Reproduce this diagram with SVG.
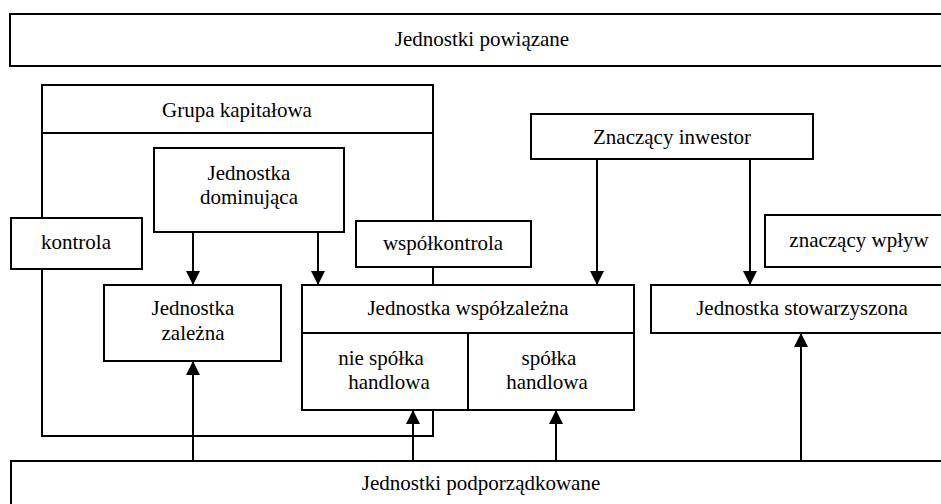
<svg xmlns="http://www.w3.org/2000/svg" width="941" height="504" viewBox="0 0 941 504">
<style>
.b{fill:#fff;stroke:#000;stroke-width:2}
.o{fill:none;stroke:#000;stroke-width:2}
.t{font-size:21px;fill:#000;text-anchor:middle}
.c{fill:none;stroke:#000;stroke-width:2}
</style>
<defs>
<marker id="ah" markerUnits="userSpaceOnUse" markerWidth="16" markerHeight="16" viewBox="0 0 16 16" refX="14" refY="8" orient="auto">
<path d="M0,1 L14,8 L0,15 Z" fill="#000"/>
</marker>
</defs>
<rect width="941" height="504" fill="#fff"/>
<g font-family="'Liberation Serif', 'DejaVu Serif', serif">
<g id="powiazane">
<rect class="b" x="10" y="14" width="940" height="52"/>
<text class="t" x="482" y="46">Jednostki powiązane</text>
</g>
<g id="grupa">
<rect class="o" x="42" y="85" width="391" height="351"/>
<line class="o" x1="42" y1="133" x2="433" y2="133"/>
<text class="t" x="237" y="117">Grupa kapitałowa</text>
</g>
<g id="podporzadkowane">
<rect class="b" x="11" y="461" width="940" height="60"/>
<text class="t" x="481" y="490">Jednostki podporządkowane</text>
</g>
<g id="connectors">
<line class="c" x1="193" y1="232" x2="193" y2="285" marker-end="url(#ah)"/>
<line class="c" x1="318" y1="232" x2="318" y2="285" marker-end="url(#ah)"/>
<line class="c" x1="597" y1="159" x2="597" y2="285" marker-end="url(#ah)"/>
<line class="c" x1="750" y1="159" x2="750" y2="285" marker-end="url(#ah)"/>
<line class="c" x1="193" y1="461" x2="193" y2="361" marker-end="url(#ah)"/>
<line class="c" x1="413" y1="461" x2="413" y2="410" marker-end="url(#ah)"/>
<line class="c" x1="556" y1="461" x2="556" y2="410" marker-end="url(#ah)"/>
<line class="c" x1="801" y1="461" x2="801" y2="333" marker-end="url(#ah)"/>
</g>
<g id="dominujaca">
<rect class="b" x="154" y="148" width="190" height="84"/>
<text class="t" x="249" y="180">Jednostka</text>
<text class="t" x="249" y="204">dominująca</text>
</g>
<g id="kontrola">
<rect class="b" x="11" y="218" width="131" height="51"/>
<text class="t" x="76" y="249">kontrola</text>
</g>
<g id="wspolkontrola">
<rect class="b" x="356" y="221" width="175" height="46"/>
<text class="t" x="443" y="250">współkontrola</text>
</g>
<g id="inwestor">
<rect class="b" x="531" y="114" width="282" height="45"/>
<text class="t" x="672" y="144">Znaczący inwestor</text>
</g>
<g id="wplyw">
<rect class="b" x="765" y="215" width="190" height="52"/>
<text class="t" x="859" y="247">znaczący wpływ</text>
</g>
<g id="zalezna">
<rect class="b" x="104" y="285" width="177" height="76"/>
<text class="t" x="193" y="315">Jednostka</text>
<text class="t" x="193" y="340">zależna</text>
</g>
<g id="wspolzalezna">
<rect class="b" x="302" y="285" width="332" height="125"/>
<line class="o" x1="302" y1="333" x2="634" y2="333"/>
<line class="o" x1="468" y1="333" x2="468" y2="410"/>
<text class="t" x="468" y="315">Jednostka współzależna</text>
<text class="t" x="381" y="365">nie spółka</text>
<text class="t" x="389" y="389">handlowa</text>
<text class="t" x="549" y="365">spółka</text>
<text class="t" x="547" y="389">handlowa</text>
</g>
<g id="stowarzyszona">
<rect class="b" x="651" y="285" width="300" height="48"/>
<text class="t" x="802" y="315">Jednostka stowarzyszona</text>
</g>
</g>
</svg>
